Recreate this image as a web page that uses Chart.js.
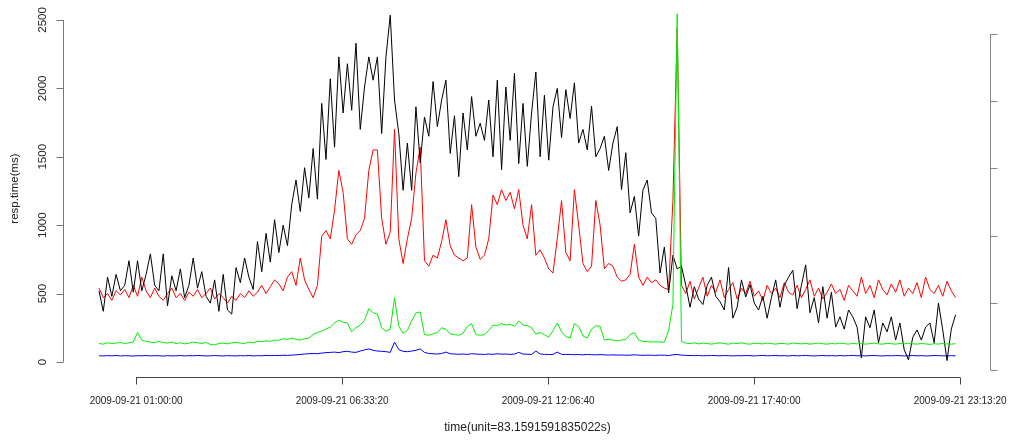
<!DOCTYPE html>
<html>
<head>
<meta charset="utf-8">
<script src="https://cdn.jsdelivr.net/npm/chart.js@4"></script>
<style>
  html, body { margin: 0; padding: 0; background: #fff; }
  #wrap { width: 1009px; height: 440px; position: relative; }
</style>
</head>
<body>
<div id="wrap"><canvas id="respChart"></canvas></div>
<script>
// one sample every 5 units, unit = 83.1591591835022 s, starting 2009-09-21 00:00:00
var UNIT_S = 83.1591591835022;
var STEP_UNITS = 5;

var blackSeries = [
    520, 370, 620, 480, 640, 520, 560, 740, 510, 740,
    520, 640, 790, 560, 520, 790, 410, 630, 520, 680,
    470, 560, 760, 540, 660, 480, 430, 600, 370, 640,
    380, 350, 690, 580, 760, 620, 530, 880, 660, 940,
    730, 1040, 800, 1000, 850, 1150, 1330, 1100, 1420, 1200,
    1560, 1190, 1890, 1480, 2070, 1570, 2230, 1820, 2180, 1840,
    2330, 1700, 2010, 2230, 2060, 2230, 1670, 2230, 2535, 1915,
    1670, 1255, 1600, 1255, 1865, 1455, 1790, 1650, 2050, 1720,
    1915, 2060, 1525, 1800, 1355, 1820, 1550, 1940, 1650, 1745,
    1620, 1915, 1500, 2060, 1405, 2010, 1620, 2110, 1450, 1890,
    1430, 1820, 2120, 1500, 1950, 1475, 1865, 2000, 1640, 1990,
    1780, 2040, 1600, 1700, 1550, 1870, 1500, 1560, 1650, 1400,
    1600, 1720, 1260, 1530, 1090, 1210, 920, 1255, 1330, 1090,
    1050, 650, 840, 505, 780, 680, 700, 560, 400, 550,
    460, 420, 560, 620, 480, 440, 380, 690, 320, 400,
    600, 475, 565, 430, 380, 480, 320, 470, 600, 400,
    560, 620, 670, 390, 560, 710, 360, 470, 285, 550,
    320, 510, 255, 330, 240, 380, 330, 255, 30, 330,
    250, 380, 140, 285, 220, 330, 160, 285, 90, 15,
    180, 234, 160, 255, 285, 140, 430, 234, 10, 240,
    345
];

var redSeries = [
    540, 470, 500, 450, 520, 490, 530, 470, 560, 480,
    620, 520, 470, 540, 480, 450, 500, 540, 470, 500,
    450, 510, 480, 530, 470, 500, 540, 460, 500, 470,
    430, 480, 450, 500, 470, 520, 480, 510, 560, 500,
    550, 600, 570, 520, 620, 660, 560, 760, 600, 530,
    470, 560, 920, 960, 900, 1110, 1400, 1240, 900, 860,
    930, 960, 1050, 1400, 1550, 1550, 1050, 860, 950, 1700,
    900, 720, 900, 1050, 1380, 1570, 740, 700, 780, 760,
    880, 1040, 850, 780, 760, 740, 760, 1150, 840, 750,
    780, 900, 1220, 1150, 1260, 1180, 1240, 1120, 1260, 1000,
    900, 1150, 780, 820, 760, 680, 650, 900, 1180, 800,
    740, 1260, 1000, 720, 660, 700, 1180, 1000, 680, 720,
    700, 620, 590, 600, 640, 860, 620, 560, 620, 580,
    600, 560, 540, 530, 1180, 2440, 560, 500, 590, 460,
    540, 620, 480, 560, 510, 600, 470, 530, 580, 460,
    540, 500, 590, 480, 520, 450, 560, 500, 540, 470,
    580, 510, 490, 560, 470, 530, 600, 480, 540, 460,
    510, 570, 500, 530, 450, 560, 520, 480, 620, 500,
    560, 470, 600, 530, 490, 570, 510, 600, 480, 540,
    500, 580, 470, 620, 530, 500, 560, 480, 590, 520,
    470
];

var greenSeries = [
    135, 130, 140, 135, 138, 142, 135, 140, 145, 215,
    160, 150, 145, 140, 150, 142, 138, 145, 135, 140,
    132, 138, 145, 140, 135, 142, 128, 125, 135, 138,
    132, 140, 142, 138, 135, 145, 140, 150, 148, 155,
    150, 160, 158, 170, 165, 175, 165, 160, 170, 175,
    200, 215, 225, 240, 255, 285, 305, 290, 285, 220,
    250, 270, 305, 390, 360, 350, 250, 225, 240, 470,
    260, 210, 230, 300, 360, 365, 200, 195, 205, 215,
    250, 240, 205, 200, 195, 210, 260, 280, 200, 195,
    200, 230, 270, 265, 280, 270, 275, 260, 300, 270,
    265, 250, 205, 215, 200, 180, 230, 285, 220, 185,
    175, 280, 260, 190, 175, 240, 265, 260, 160, 165,
    160, 155, 160, 165, 200, 215, 160, 150, 148, 145,
    148, 145, 145, 230, 420, 2545, 150, 138, 135, 140,
    132, 138, 135, 130, 136, 140, 134, 130, 138, 135,
    140, 133, 130, 137, 135, 132, 138, 134, 130, 136,
    134, 130, 138, 135, 132, 136, 130, 134, 138, 133,
    130, 135, 132, 138, 134, 130, 136, 132, 135, 130,
    134, 138, 132, 130, 136, 133, 130, 135, 132, 137,
    133, 130, 135, 132, 128, 134, 130, 136, 132, 130,
    134
];

var blueSeries = [
    45, 44, 46, 45, 47, 44, 46, 45, 43, 46,
    45, 47, 44, 46, 45, 43, 46, 44, 45, 47,
    44, 46, 45, 48, 46, 44, 45, 47, 45, 44,
    46, 45, 44, 46, 45, 47, 44, 46, 45, 48,
    46, 48, 47, 49, 48, 50, 52, 55, 58, 60,
    62, 60, 65, 68, 70, 72, 68, 75, 78, 72,
    70, 80, 88, 95, 85, 80, 78, 75, 70, 145,
    90, 78, 75, 80, 85, 95, 70, 62, 60, 58,
    62, 72, 60, 58, 56, 58, 55, 60, 58, 56,
    55, 58, 56, 60, 57, 58, 55, 58, 70, 58,
    56, 55, 80, 58, 56, 54, 55, 72, 56, 54,
    55, 53, 54, 52, 55, 53, 52, 54, 52, 50,
    52, 50, 51, 49, 50, 52, 50, 48, 50, 49,
    48, 50, 49, 47, 52, 55, 50, 48, 47, 46,
    47, 45, 46, 48, 46, 45, 47, 46, 44, 46,
    45, 47, 46, 44, 46, 48, 45, 46, 47, 45,
    46, 44, 47, 45, 46, 48, 45, 44, 46, 47,
    45, 46, 44, 47, 45, 46, 48, 45, 46, 44,
    46, 47, 45, 44, 46, 45, 47, 46, 44, 45,
    47, 45, 46, 44, 45, 47, 46, 45, 44, 46,
    45
];

// x ticks in seconds since 2009-09-21 00:00:00
var xTicks = [3600, 23600, 43600, 63600, 83600];
var xTickLabels = ["2009-09-21 01:00:00", "2009-09-21 06:33:20", "2009-09-21 12:06:40",
                   "2009-09-21 17:40:00", "2009-09-21 23:13:20"];
var yTicks = [0, 500, 1000, 1500, 2000, 2500];
var rightTicks = [0, 1, 2, 3, 4, 5];

var xTitle = "time(unit=" + UNIT_S + "s)";
var yTitle = "resp.time(ms)";

function toPoints(values) {
    return values.map(function(v, i) {
        return { x: i * STEP_UNITS * UNIT_S, y: v };
    });
}

function line(values, color) {
    return {
        data: toPoints(values),
        borderColor: color,
        borderWidth: 1,
        pointRadius: 0,
        tension: 0,
        fill: false
    };
}

// R style axes: line only over the tick range, ticks pointing outward
var rAxes = {
    id: 'rAxes',
    afterDraw: function(chart) {
        var ctx = chart.ctx;
        var area = chart.chartArea;
        var xs = chart.scales.x, ys = chart.scales.y, ys2 = chart.scales.y2;
        var fontName = '"Liberation Sans", Arial, sans-serif';

        ctx.save();
        ctx.lineWidth = 1;

        // left axis
        var lx = Math.round(area.left - 2) + 0.5;
        ctx.strokeStyle = '#777';
        ctx.beginPath();
        ctx.moveTo(lx, ys.getPixelForValue(yTicks[0]));
        ctx.lineTo(lx, ys.getPixelForValue(yTicks[yTicks.length - 1]));
        yTicks.forEach(function(v) {
            var py = Math.round(ys.getPixelForValue(v)) + 0.5;
            ctx.moveTo(lx, py);
            ctx.lineTo(lx - 7, py);
        });
        ctx.stroke();

        ctx.fillStyle = '#222';
        ctx.font = '11.5px ' + fontName;
        ctx.textAlign = 'center';
        ctx.textBaseline = 'middle';
        yTicks.forEach(function(v) {
            ctx.save();
            ctx.translate(43, ys.getPixelForValue(v));
            ctx.rotate(-Math.PI / 2);
            ctx.fillText(String(v), 0, 0);
            ctx.restore();
        });

        ctx.save();
        ctx.translate(15, (area.top + area.bottom) / 2);
        ctx.rotate(-Math.PI / 2);
        ctx.fillText(yTitle, 0, 0);
        ctx.restore();

        // bottom axis
        var by = Math.round(area.bottom) + 0.5;
        ctx.strokeStyle = '#444';
        ctx.beginPath();
        ctx.moveTo(xs.getPixelForValue(xTicks[0]), by);
        ctx.lineTo(xs.getPixelForValue(xTicks[xTicks.length - 1]), by);
        xTicks.forEach(function(v) {
            var px = Math.round(xs.getPixelForValue(v)) + 0.5;
            ctx.moveTo(px, by);
            ctx.lineTo(px, by + 7);
        });
        ctx.stroke();

        ctx.font = '10px ' + fontName;
        xTicks.forEach(function(v, i) {
            ctx.fillText(xTickLabels[i], xs.getPixelForValue(v), 401);
        });
        ctx.font = '12px ' + fontName;
        ctx.fillText(xTitle, (area.left + area.right) / 2, 428);

        // right axis
        var rx = Math.round(area.right) + 0.5;
        ctx.strokeStyle = '#888';
        ctx.beginPath();
        ctx.moveTo(rx, ys2.getPixelForValue(rightTicks[0]));
        ctx.lineTo(rx, ys2.getPixelForValue(rightTicks[rightTicks.length - 1]));
        rightTicks.forEach(function(v) {
            var py = Math.round(ys2.getPixelForValue(v)) + 0.5;
            ctx.moveTo(rx, py);
            ctx.lineTo(rx + 7, py);
        });
        ctx.stroke();

        ctx.restore();
    }
};

function drawRespChart(id) {
    var chartObject = document.getElementById(id).getContext('2d');

    new Chart(chartObject, {
        type: 'line',
        data: {
            datasets: [
                line(greenSeries, '#00ee00'),
                line(blackSeries, '#000000'),
                line(redSeries, '#ff0000'),
                line(blueSeries, '#0000ff')
            ]
        },
        options: {
            responsive: true,
            maintainAspectRatio: false,
            animation: false,
            layout: { padding: { left: 65, right: 19, top: 0, bottom: 63 } },
            plugins: { legend: { display: false }, tooltip: { enabled: false } },
            scales: {
                x: { type: 'linear', display: false, min: -3300, max: 86500 },
                y: { display: false, min: -110, max: 2646 },
                y2: { display: false, position: 'right', min: -0.104, max: 5.506 }
            }
        },
        plugins: [rAxes]
    });
}

drawRespChart('respChart');
</script>
</body>
</html>
